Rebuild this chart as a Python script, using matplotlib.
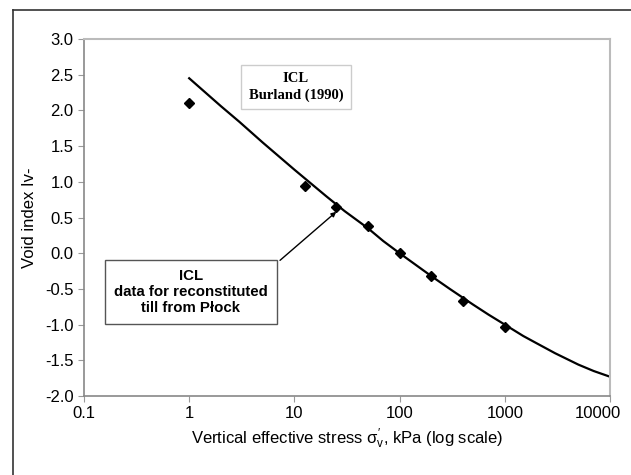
import numpy as np
import matplotlib.pyplot as plt
from matplotlib.lines import Line2D
from matplotlib.transforms import ScaledTranslation

plt.rcParams['font.family'] = ['Liberation Sans', 'DejaVu Sans']
plt.rcParams['mathtext.fontset'] = 'custom'
plt.rcParams['mathtext.rm'] = 'Liberation Sans'
plt.rcParams['mathtext.it'] = 'Liberation Sans'

# ICL (Burland 1990)
icl_stress = [1, 2, 3, 5, 10, 20, 30, 50, 70, 100, 200, 300, 500, 700,
              1000, 1500, 2000, 3000, 5000, 7000, 10000]
icl_iv = [2.45, 2.06, 1.84, 1.55, 1.17, 0.80, 0.59, 0.35, 0.17, 0.0, -0.32, -0.50,
          -0.72, -0.86, -1.0, -1.16, -1.26, -1.40, -1.56, -1.65, -1.73]

# data for reconstituted till from Plock
test_stress = [1, 12.5, 25, 50, 100, 200, 400, 1000]
test_iv = [2.10, 0.94, 0.65, 0.38, 0.0, -0.32, -0.67, -1.04]

fig = plt.figure(figsize=(6.31, 4.75), dpi=100)
ax = fig.add_axes([0.1331, 0.1663, 0.8336, 0.7516])

ax.plot(icl_stress, icl_iv, color='black', lw=1.6)
ax.plot(test_stress, test_iv, 'D', color='black', ms=5)

ax.set_xscale('log')
ax.set_xlim(0.1, 10000)
ax.set_ylim(-2.0, 3.0)
ax.set_xticks([0.1, 1, 10, 100, 1000, 10000])
ax.set_xticklabels(['0.1', '1', '10', '100', '1000', '10000'])
ax.xaxis.set_minor_locator(plt.NullLocator())
ax.set_yticks(np.arange(-2.0, 3.01, 0.5))
ax.set_yticklabels([f'{v:.1f}' for v in np.arange(-2.0, 3.01, 0.5)])
ax.tick_params(labelsize=12, colors='black', length=4, width=0.8)
ax.tick_params(axis='both', color='#999999')

# keep last x label inside the figure
last = ax.get_xticklabels()[-1]
last.set_transform(last.get_transform() + ScaledTranslation(-0.12, 0, fig.dpi_scale_trans))

for s in ['left', 'bottom']:
    ax.spines[s].set_color('#888888')
    ax.spines[s].set_linewidth(1.2)
for s in ['top', 'right']:
    ax.spines[s].set_color('#bbbbbb')
    ax.spines[s].set_linewidth(1.5)

ax.set_xlabel(r"Vertical effective stress $\sigma_{\mathrm{v}}'$, kPa (log scale)", fontsize=12, labelpad=4)
ax.set_ylabel('Void index Iv-', fontsize=12, labelpad=6)

ax.text(0.403, 0.866, 'ICL\nBurland (1990)', transform=ax.transAxes, ha='center', va='center',
        family='Liberation Serif', fontweight='bold', fontsize=10.5, linespacing=1.35,
        bbox=dict(boxstyle='square,pad=0.5', fc='white', ec='#cccccc', lw=1))

ax.text(0.203, 0.291, 'ICL\ndata for reconstituted\ntill from P\u0142ock', transform=ax.transAxes,
        ha='center', va='center', fontweight='bold', fontsize=10.8, linespacing=1.2,
        bbox=dict(boxstyle='square,pad=0.6', fc='white', ec='#555555', lw=1))

ax.annotate('', xy=(25, 0.58), xytext=(7.3, -0.1),
            arrowprops=dict(arrowstyle='-|>', color='black', lw=1, mutation_scale=7,
                            shrinkA=0, shrinkB=0))

# outer frame (left and top only)
fig.add_artist(Line2D([13/631, 13/631], [0, 1 - 10/475], transform=fig.transFigure, color='#333333', lw=1.2))
fig.add_artist(Line2D([13/631, 1], [1 - 10/475, 1 - 10/475], transform=fig.transFigure, color='#333333', lw=1.2))

fig.savefig('out.png', dpi=100)
